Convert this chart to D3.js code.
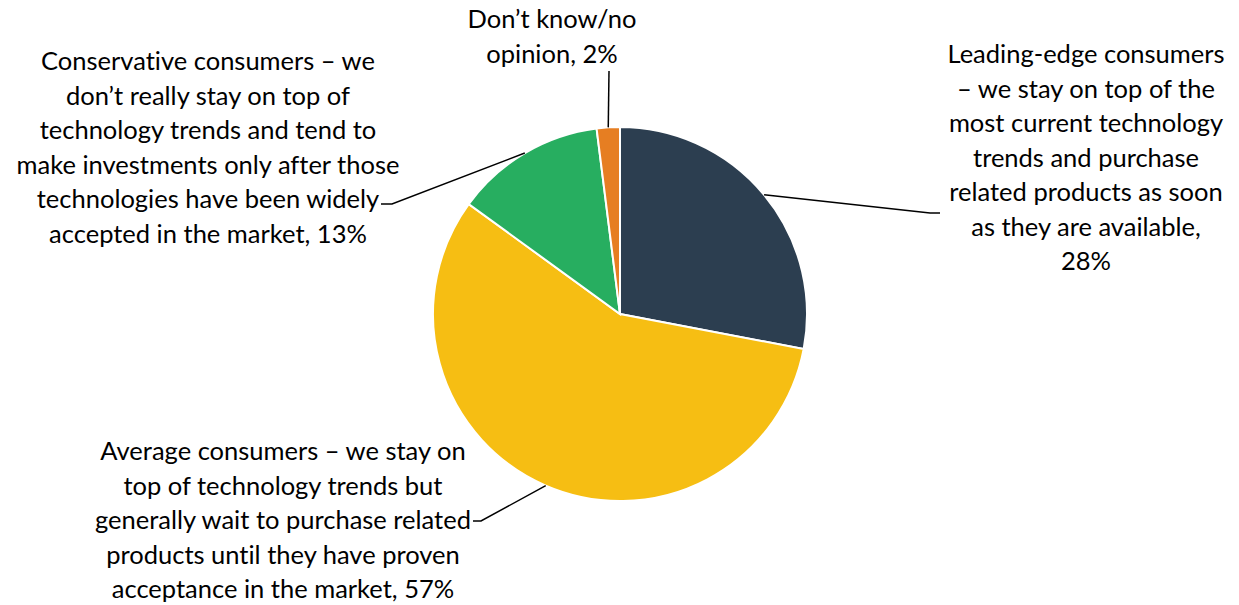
<!DOCTYPE html>
<html>
<head>
<meta charset="utf-8">
<script src="https://cdn.jsdelivr.net/npm/d3@7"></script>
<style>
  body { margin: 0; background: #fff; }
  text { font-family: Lato, "Open Sans", sans-serif; font-size: 25.5px; fill: #000; font-variant-ligatures: none; }
</style>
</head>
<body>
<div id="wrapper"></div>
<script>
const categories = ['Leading-edge', 'Average', 'Conservative', "Don't know"];
const values = [28, 57, 13, 2];
const colors = ['#2C3E50', '#F6BE13', '#27AE60', '#E67E22'];
const labelLines = [
  ['Leading-edge consumers', '\u2013 we stay on top of the', 'most current technology', 'trends and purchase', 'related products as soon', 'as they are available,', '28%'],
  ['Average consumers \u2013 we stay on', 'top of technology trends but', 'generally wait to purchase related', 'products until they have proven', 'acceptance in the market, 57%'],
  ['Conservative consumers \u2013 we', 'don\u2019t really stay on top of', 'technology trends and tend to', 'make investments only after those', 'technologies have been widely', 'accepted in the market, 13%'],
  ['Don\u2019t know/no', 'opinion, 2%']
];
// label centre x, first baseline y, leader end point
const labelPos = [
  { x: 1086, y: 63, end: [940, 213], elbow: 930 },
  { x: 283, y: 460, end: [473, 521], elbow: 481 },
  { x: 208, y: 70, end: [381, 204], elbow: 392 },
  { x: 552, y: 28, end: [609, 71], elbow: null }
];

const width = 1239, height = 605;
const cx = 620, cy = 314, r = 187;

const svg = d3.select('#wrapper').append('svg').attr('width', width).attr('height', height);

const pie = d3.pie().sort(null).value(d => d)(values);
const arc = d3.arc().innerRadius(0).outerRadius(r);

const g = svg.append('g').attr('transform', `translate(${cx},${cy})`);
g.selectAll('path')
  .data(pie)
  .enter()
  .append('path')
  .attr('d', arc)
  .attr('fill', (d, i) => colors[i])
  .attr('stroke', 'white')
  .attr('stroke-width', 2);

// leader lines start on the rim at the middle of each slice
pie.forEach((d, i) => {
  const a = (d.startAngle + d.endAngle) / 2;
  const sx = cx + Math.sin(a) * r;
  const sy = cy - Math.cos(a) * r;
  const p = labelPos[i];
  const pts = p.elbow === null ? [[sx, sy], p.end] : [[sx, sy], [p.elbow, p.end[1]], p.end];
  svg.append('path')
    .attr('d', d3.line()(pts))
    .attr('fill', 'none')
    .attr('stroke', '#000')
    .attr('stroke-width', 1.5);
});

labelLines.forEach((lines, i) => {
  const t = svg.append('text')
    .attr('text-anchor', 'middle')
    .attr('x', labelPos[i].x)
    .attr('y', labelPos[i].y);
  t.selectAll('tspan')
    .data(lines)
    .enter()
    .append('tspan')
    .attr('x', labelPos[i].x)
    .attr('dy', (d, j) => j === 0 ? 0 : 34.5)
    .text(d => d);
});
</script>
</body>
</html>
